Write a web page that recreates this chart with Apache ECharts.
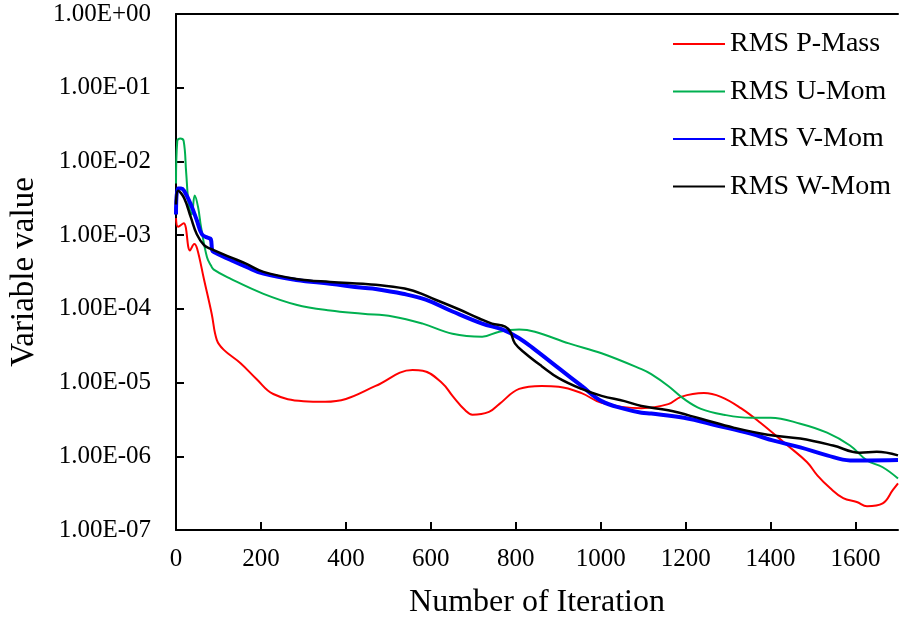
<!DOCTYPE html>
<html>
<head>
<meta charset="utf-8">
<script src="https://cdn.jsdelivr.net/npm/echarts@6/dist/echarts.min.js"></script>
<style>html,body{margin:0;padding:0;background:#fff}#c{width:900px;height:624px}</style>
</head>
<body>
<div id="c"></div>
<script>
var seriesNames = ['RMS P-Mass', 'RMS U-Mom', 'RMS V-Mom', 'RMS W-Mom'];
var xTitle = 'Number of Iteration';
var yTitle = 'Variable value';

var pMass = [[0,1.7e-3],[5,1.3e-3],[18,1.45e-3],[33,6.2e-4],[43,7.6e-4],[50,6.5e-4],[66,2.5e-4],[84,8.6e-5],[96,3.8e-5],[112,2.8e-5],[152,1.83e-5],[190,1.11e-5],[229,7.0e-6],[300,5.6e-6],[351,5.5e-6],[400,6.0e-6],[470,9.0e-6],[557,1.48e-5],[581,1.45e-5],[627,9.8e-6],[651,6.6e-6],[681,4.2e-6],[698,3.66e-6],[737,4.0e-6],[761,5.1e-6],[808,8.2e-6],[861,9.0e-6],[901,8.8e-6],[955,7.2e-6],[1002,5.3e-6],[1096,4.5e-6],[1159,5.1e-6],[1189,6.4e-6],[1243,7.2e-6],[1283,6.4e-6],[1330,4.5e-6],[1376,2.85e-6],[1440,1.4e-6],[1486,8.3e-7],[1510,5.5e-7],[1540,3.7e-7],[1571,2.7e-7],[1603,2.4e-7],[1627,2.1e-7],[1664,2.3e-7],[1688,3.5e-7],[1700,4.3e-7]];

var uMom = [[0,5e-3],[3,1.9e-2],[10,2.05e-2],[18,1.9e-2],[24,7e-3],[30,2.6e-3],[37,1.9e-3],[44,3.45e-3],[52,2.4e-3],[59,1.28e-3],[73,5.0e-4],[82,3.9e-4],[89,3.4e-4],[129,2.55e-4],[206,1.6e-4],[283,1.14e-4],[363,9.5e-5],[440,8.6e-5],[510,7.9e-5],[581,6.3e-5],[651,4.6e-5],[721,4.2e-5],[761,4.9e-5],[808,5.25e-5],[845,4.9e-5],[925,3.4e-5],[1002,2.5e-5],[1096,1.52e-5],[1119,1.3e-5],[1159,9.0e-6],[1196,6.0e-6],[1236,4.4e-6],[1290,3.66e-6],[1353,3.33e-6],[1400,3.33e-6],[1470,2.77e-6],[1533,2.09e-6],[1587,1.4e-6],[1627,8.8e-7],[1664,7.1e-7],[1700,5.0e-7]];

var vMom = [[0,1.9e-3],[4,4.3e-3],[12,4.3e-3],[19,4.0e-3],[35,2.6e-3],[49,1.59e-3],[61,1.03e-3],[75,9.2e-4],[82,8.8e-4],[85,6.3e-4],[89,5.9e-4],[129,4.6e-4],[166,3.7e-4],[206,3.0e-4],[283,2.47e-4],[363,2.19e-4],[440,1.93e-4],[470,1.86e-4],[534,1.6e-4],[588,1.33e-4],[651,9.2e-5],[721,6.3e-5],[768,5.25e-5],[808,4.0e-5],[845,2.8e-5],[901,1.57e-5],[955,9.0e-6],[1002,5.6e-6],[1056,4.4e-6],[1096,3.9e-6],[1119,3.8e-6],[1196,3.33e-6],[1276,2.6e-6],[1353,2.03e-6],[1407,1.63e-6],[1470,1.32e-6],[1533,1.03e-6],[1587,8.8e-7],[1630,8.8e-7],[1700,8.9e-7]];

var wMom = [[0,2.6e-3],[5,4.0e-3],[19,3.2e-3],[35,1.74e-3],[49,1.03e-3],[66,7.3e-4],[82,6.5e-4],[129,5.0e-4],[166,4.07e-4],[206,3.17e-4],[283,2.55e-4],[363,2.32e-4],[440,2.19e-4],[470,2.12e-4],[550,1.82e-4],[611,1.33e-4],[667,9.8e-5],[714,7.4e-5],[744,6.3e-5],[775,5.75e-5],[787,4.9e-5],[798,3.4e-5],[822,2.5e-5],[861,1.67e-5],[901,1.15e-5],[955,8.2e-6],[1002,6.6e-6],[1056,5.6e-6],[1096,4.8e-6],[1159,4.2e-6],[1236,3.23e-6],[1313,2.45e-6],[1393,1.96e-6],[1470,1.74e-6],[1547,1.4e-6],[1610,1.12e-6],[1650,1.15e-6],[1700,1.03e-6]];

var seriesData = [pMass, uMom, vMom, wMom];
var colors = ['#ff0000', '#00b050', '#0000ff', '#000000'];
var widths = [2, 2, 4, 2.5];
var font = 'Liberation Serif';

function expLabel(v) {
  var e = Math.round(Math.log10(v));
  var s = Math.abs(e) < 10 ? '0' + Math.abs(e) : '' + Math.abs(e);
  return '1.00E' + (e >= 0 ? '+' : '-') + s;
}

var chart = echarts.init(document.getElementById('c'), null, {renderer: 'canvas'});
chart.setOption({
  animation: false,
  backgroundColor: '#ffffff',
  grid: {left: 173, right: 2, top: 14, bottom: 91},
  legend: {
    orient: 'vertical',
    left: 667,
    top: 25,
    itemWidth: 52,
    itemHeight: 14,
    itemGap: 19.5,
    itemStyle: {opacity: 0},
    textStyle: {fontFamily: font, fontSize: 28, color: '#000'},
    data: seriesNames
  },
  xAxis: [{
    type: 'value',
    min: 0,
    max: 1700,
    interval: 200,
    name: xTitle,
    nameLocation: 'middle',
    nameGap: 57,
    nameTextStyle: {fontFamily: font, fontSize: 32, color: '#000'},
    axisLine: {onZero: false, lineStyle: {color: '#000', width: 2}},
    axisTick: {inside: true, length: 8, lineStyle: {color: '#000', width: 2}},
    axisLabel: {fontFamily: font, fontSize: 25, color: '#000', margin: 17, showMaxLabel: false,
      formatter: function (v) { return String(v); }},
    splitLine: {show: false}
  }, {
    type: 'value',
    position: 'top',
    min: 0,
    max: 1700,
    axisLine: {onZero: false, lineStyle: {color: '#000', width: 2}},
    axisTick: {show: false},
    axisLabel: {show: false},
    splitLine: {show: false}
  }],
  yAxis: {
    type: 'log',
    logBase: 10,
    min: 1e-7,
    max: 1,
    name: yTitle,
    nameLocation: 'middle',
    nameGap: 135,
    nameTextStyle: {fontFamily: font, fontSize: 33, color: '#000'},
    axisLine: {show: true, lineStyle: {color: '#000', width: 2}},
    axisTick: {show: true, inside: true, length: 8, lineStyle: {color: '#000', width: 2}},
    axisLabel: {fontFamily: font, fontSize: 25, color: '#000', margin: 25, formatter: expLabel},
    minorTick: {show: false},
    splitLine: {show: false}
  },
  series: seriesNames.map(function (n, i) {
    return {
      name: n,
      type: 'line',
      xAxisIndex: 0,
      data: seriesData[i],
      symbol: 'none',
      smooth: 0.4,
      lineStyle: {color: colors[i], width: widths[i]},
      itemStyle: {color: colors[i]},
      z: [1, 2, 3, 4][i]
    };
  })
});
</script>
</body>
</html>
